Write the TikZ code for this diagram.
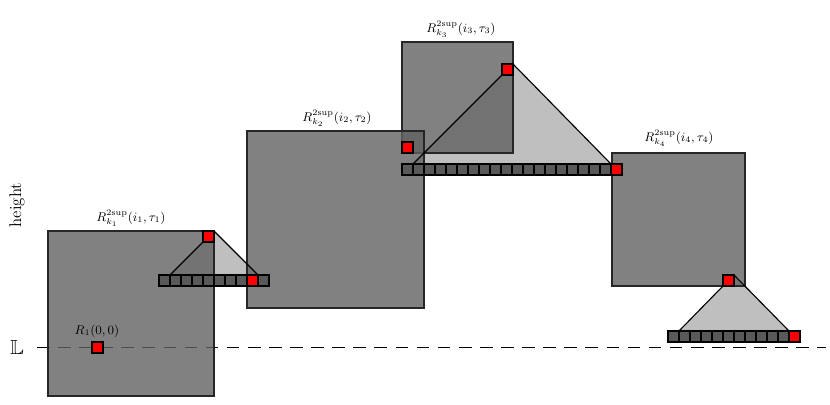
\documentclass[tikz,border=0pt]{standalone}
\usepackage{amssymb}
\usetikzlibrary{backgrounds}
\tikzset{
  box/.style={draw=black!85, fill=black!62, fill opacity=0.8, thick},
  cell/.style={draw, thick, fill=black!65, minimum size=0.275cm,
    inner sep=0pt, outer sep=0pt},
  redcell/.style={cell, fill=red},
  fan/.style={fill=black!25},
  lbl/.style={font=\small, inner sep=1pt}
}

\begin{document}
\begin{tikzpicture}[x=0.025cm, y=-0.025cm]
    \useasboundingbox (0,0) rectangle (830,404);

    %Achse
    \node (L) at (17,348) {\Large$\mathbb{L}$};
    \node[rotate=90] (h) at (17,205) {\large height};
    \coordinate (Lstart) at (37,347.5);
    \coordinate (Lend) at (826,347.5);

    %Rote Quadrate
    \node[redcell] (r0) at (97.5,347.5) {};
    \node[redcell] (s1) at (208.5,236.5) {};
    \node[redcell] (s2) at (407.5,147.5) {};
    \node[redcell] (s3) at (507.5,69.5) {};
    \node[redcell] (s4) at (728.5,280.5) {};

    %Zeilen
    \foreach \i in {0,...,9}
        \node[cell] (a\i) at ({164.5+11*\i},280.5) {};
    \node[redcell] at (a8) {};
    \foreach \i in {0,...,19}
        \node[cell] (b\i) at ({407.5+11*\i},169.5) {};
    \node[redcell] at (b19) {};
    \foreach \i in {0,...,11}
        \node[cell] (c\i) at ({673.5+11*\i},336.5) {};
    \node[redcell] at (c11) {};

    %Beschriftung
    \node[lbl] (l0) at (97,331) {$R_1(0,0)$};
    \node[lbl] (l1) at (131,218) {$R^{\mathrm{2sup}}_{k_1}(i_1,\tau_1)$};
    \node[lbl] (l2) at (337,118) {$R^{\mathrm{2sup}}_{k_2}(i_2,\tau_2)$};
    \node[lbl] (l3) at (461,29) {$R^{\mathrm{2sup}}_{k_3}(i_3,\tau_3)$};
    \node[lbl] (l4) at (679,138) {$R^{\mathrm{2sup}}_{k_4}(i_4,\tau_4)$};

    %Hintergrund
    \begin{pgfonlayer}{background}
        \fill[fan] (s1.south west) -- (s1.north east)
            -- (a8.north east) -- (a0.north east) -- cycle;
        \fill[fan] (s3.south west) -- (s3.north east)
            -- (b19.north west) -- (b0.north east) -- cycle;
        \fill[fan] (s4.south west) -- (s4.north east)
            -- (c11.north west) -- (c0.north east) -- cycle;
        \draw[thick, dash pattern=on 9pt off 6pt] (Lstart) -- (Lend);
        \draw[box] (48,231) rectangle (214,396);
        \draw[box] (402,42) rectangle (513,153);
        \draw[box] (247,131) rectangle (424,308);
        \draw[box] (612,153) rectangle (745,286);
    \end{pgfonlayer}

    %Linien
    \draw[thick] (s1.south west) -- (a0.north east);
    \draw[thick] (s1.north east) -- (a8.north east);
    \draw[thick] (s3.south west) -- (b0.north east);
    \draw[thick] (s3.north east) -- (b19.north west);
    \draw[thick] (s4.south west) -- (c0.north east);
    \draw[thick] (s4.north east) -- (c11.north west);

\end{tikzpicture}
\end{document}
